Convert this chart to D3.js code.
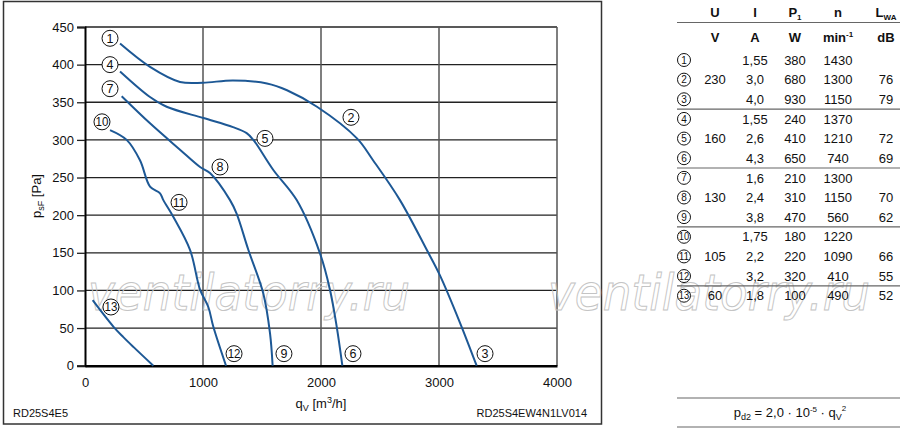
<!DOCTYPE html>
<html lang="en">
  <head>
    <meta charset="utf-8">
    <title>RD25S4E5 fan curves</title>
    <script src="https://d3js.org/d3.v7.js"></script>
    <style>
    body {margin: 0; background: white;}
    svg {font-family: "Liberation Sans", Arial, sans-serif; display: block;}
    </style>
  </head>
  <body>
  <script>

  // curves: [q_V m3/h, p_sF Pa]
  var curve1to3 = [[297,428],[551,397],[805,377],[1000,376],[1254,379],[1542,375],[1712,366],
                   [1966,344],[2305,302],[2441,273],[2669,220],[2896,154],[3008,120],[3178,57],[3319,0]];
  var curve4to6 = [[297,391],[551,357],[692,344],[1003,329],[1254,317],[1370,309],[1427,300],
                   [1596,260],[1794,220],[1992,149],[2076,101],[2133,52],[2181,0]];
  var curve7to9 = [[311,358],[551,322],[805,287],[975,264],[1059,256],[1229,220],[1285,202],
                   [1384,154],[1511,96],[1568,43],[1590,0]];
  var curve10to12 = [[212,313],[353,300],[466,273],[551,238],[636,229],[664,220],[748,198],
                     [890,154],[975,101],[1045,78],[1087,52],[1195,0]];
  var curve13 = [[65,87],[240,52],[325,38],[410,25],[579,0]];

  var curves = [curve1to3, curve4to6, curve7to9, curve10to12, curve13];

  // circled labels on the chart
  var labelNum = ["1","4","7","10","5","8","11","2","13","12","9","6","3"];
  var labelQ   = [212, 212, 212, 144, 1525, 1144, 797, 2254, 220, 1263, 1686, 2271, 3390];
  var labelP   = [435, 400, 368, 324, 302, 264, 217, 330, 78, 16, 16, 16, 16];

  var xTicks = [0, 1000, 2000, 3000, 4000];
  var yTicks = [0, 50, 100, 150, 200, 250, 300, 350, 400, 450];

  // table
  var tableNum  = ["1","2","3","4","5","6","7","8","9","10","11","12","13"];
  var tableU    = ["", "230", "", "", "160", "", "", "130", "", "", "105", "", "60"];
  var tableI    = ["1,55","3,0","4,0","1,55","2,6","4,3","1,6","2,4","3,8","1,75","2,2","3,2","1,8"];
  var tableP1   = ["380","680","930","240","410","650","210","310","470","180","220","320","100"];
  var tableN    = ["1430","1300","1150","1370","1210","740","1300","1150","560","1220","1090","410","490"];
  var tableLwa  = ["","76","79","","72","69","","70","62","","66","55","52"];
  var groupEnds = [2, 5, 8, 11];

  var w = 900;
  var h = 429;
  var blue = "#1d5895";

  var svg = d3.select("body")
      .append("svg")
      .attr("width", w)
      .attr("height", h);

  var xScale = d3.scaleLinear().domain([0, 4000]).range([85, 557]);
  var yScale = d3.scaleLinear().domain([0, 450]).range([365.7, 27]);

  // outer frame
  svg.append("rect")
     .attr("x", 3.5).attr("y", 1.5)
     .attr("width", 598).attr("height", 422.5)
     .attr("fill", "none")
     .attr("stroke", "#333")
     .attr("stroke-width", 1.5);

  // grid
  svg.selectAll(".hgrid")
     .data(yTicks.slice(1))
     .join("line")
     .attr("class", "hgrid")
     .attr("x1", xScale(0)).attr("x2", xScale(4000))
     .attr("y1", d => yScale(d)).attr("y2", d => yScale(d))
     .attr("stroke", "#222")
     .attr("stroke-width", 1.3);

  svg.selectAll(".vgrid")
     .data(xTicks.slice(1))
     .join("line")
     .attr("class", "vgrid")
     .attr("x1", d => xScale(d)).attr("x2", d => xScale(d))
     .attr("y1", yScale(0)).attr("y2", yScale(450))
     .attr("stroke", "#555")
     .attr("stroke-width", 1.5);

  // y axis with little ticks to the left
  var yAxis = d3.axisLeft(yScale).tickValues(yTicks).tickSize(8).tickPadding(3);
  var gy = svg.append("g")
     .attr("transform", `translate(${xScale(0)},0)`)
     .call(yAxis);
  gy.select(".domain").attr("stroke", "#000").attr("stroke-width", 2);
  gy.selectAll(".tick line").attr("stroke", "#222").attr("stroke-width", 1.3);
  gy.selectAll("text").attr("font-size", "13px").attr("fill", "#111")
     .attr("font-family", "Liberation Sans, Arial, sans-serif");

  var xAxis = d3.axisBottom(xScale).tickValues(xTicks).tickFormat(d3.format("d"))
      .tickSize(0).tickPadding(12);
  var gx = svg.append("g")
     .attr("transform", `translate(0,${yScale(0)})`)
     .call(xAxis);
  gx.select(".domain").attr("stroke", "#000").attr("stroke-width", 2.6);
  gx.selectAll("text").attr("font-size", "13px").attr("fill", "#111")
     .attr("font-family", "Liberation Sans, Arial, sans-serif");

  // watermark
  [88, 548].forEach(function(x0) {
    svg.append("text")
       .attr("x", x0).attr("y", 310)
       .attr("font-size", "50px")
       .attr("font-style", "italic")
       .attr("font-family", "DejaVu Sans, sans-serif")
       .attr("font-weight", "200")
       .attr("textLength", 322)
       .attr("lengthAdjust", "spacingAndGlyphs")
       .attr("fill", "none")
       .attr("stroke", "#c4c4c4")
       .attr("stroke-width", 1)
       .text("ventilatorry.ru");
  });

  // curves
  var line = d3.line()
      .x(d => xScale(d[0]))
      .y(d => yScale(d[1]))
      .curve(d3.curveCatmullRom.alpha(0.5));

  svg.selectAll(".curve")
     .data(curves)
     .join("path")
     .attr("class", "curve")
     .attr("d", line)
     .attr("fill", "none")
     .attr("stroke", blue)
     .attr("stroke-width", 2);

  // circled numbers
  function circled(g, x, y, r, num, fs) {
    g.append("circle")
     .attr("cx", x).attr("cy", y).attr("r", r)
     .attr("fill", "white").attr("stroke", "#111").attr("stroke-width", 1);
    var t = g.append("text")
     .attr("x", x).attr("y", y + fs * 0.36)
     .attr("text-anchor", "middle")
     .attr("font-size", fs + "px")
     .attr("fill", "#111")
     .text(num);
    if (num.length > 1) t.attr("textLength", r * 1.6).attr("lengthAdjust", "spacingAndGlyphs");
  }

  var lab = svg.append("g");
  labelNum.forEach(function(n, i) {
    circled(lab, xScale(labelQ[i]), yScale(labelP[i]), 8, n, 12.5);
  });

  // axis titles
  var yt = svg.append("text")
     .attr("transform", "translate(41,196) rotate(-90)")
     .attr("text-anchor", "middle")
     .attr("font-size", "13px")
     .attr("fill", "#111");
  yt.append("tspan").text("p");
  yt.append("tspan").attr("font-size", "9px").attr("dy", 3).text("sF");
  yt.append("tspan").attr("dy", -3).text(" [Pa]");

  var xt = svg.append("text")
     .attr("x", 321).attr("y", 408)
     .attr("text-anchor", "middle")
     .attr("font-size", "13px")
     .attr("fill", "#111");
  xt.append("tspan").text("q");
  xt.append("tspan").attr("font-size", "9px").attr("dy", 3).text("V");
  xt.append("tspan").attr("dy", -3).text(" [m");
  xt.append("tspan").attr("font-size", "9px").attr("dy", -5).text("3");
  xt.append("tspan").attr("dy", 5).text("/h]");

  svg.append("text")
     .attr("x", 13).attr("y", 417)
     .attr("font-size", "11px").attr("fill", "#111")
     .text("RD25S4E5");

  svg.append("text")
     .attr("x", 587).attr("y", 417)
     .attr("text-anchor", "end")
     .attr("font-size", "11px").attr("fill", "#111")
     .text("RD25S4EW4N1LV014");

  // table on the right
  var colX = [715, 755, 795, 838, 886];
  var tb = svg.append("g").attr("font-size", "13px").attr("fill", "#111");

  var head1 = ["U", "I", "P", "n", "L"];
  var head1sub = ["", "", "1", "", "WA"];
  var head2 = ["V", "A", "W", "min", "dB"];
  head1.forEach(function(s, i) {
    var t = tb.append("text")
       .attr("x", colX[i]).attr("y", 17)
       .attr("text-anchor", "middle")
       .attr("font-weight", "bold");
    t.append("tspan").text(s);
    if (head1sub[i]) t.append("tspan").attr("font-size", "8px").attr("dy", 3).text(head1sub[i]);
  });
  head2.forEach(function(s, i) {
    var t = tb.append("text")
       .attr("x", colX[i]).attr("y", 42)
       .attr("text-anchor", "middle")
       .attr("font-weight", "bold");
    t.append("tspan").text(s);
    if (s == "min") t.append("tspan").attr("font-size", "8px").attr("dy", -5).text("-1");
  });

  tb.append("line")
     .attr("x1", 677).attr("x2", 900)
     .attr("y1", 22.5).attr("y2", 22.5)
     .attr("stroke", "#666").attr("stroke-width", 1.2);

  var rowY = d3.scaleLinear().domain([0, 12]).range([60, 295.7]);
  var cols = [tableU, tableI, tableP1, tableN, tableLwa];

  tableNum.forEach(function(n, i) {
    circled(tb, 684, rowY(i), 6.5, n, 10);
    cols.forEach(function(col, j) {
      tb.append("text")
         .attr("x", colX[j]).attr("y", rowY(i) + 4.7)
         .attr("text-anchor", "middle")
         .text(col[i]);
    });
  });

  tb.selectAll(".sep")
     .data(groupEnds)
     .join("line")
     .attr("class", "sep")
     .attr("x1", 677).attr("x2", 900)
     .attr("y1", d => rowY(d) + 9.8).attr("y2", d => rowY(d) + 9.8)
     .attr("stroke", "#666").attr("stroke-width", 1.2);

  // dynamic pressure formula
  tb.append("line")
     .attr("x1", 677).attr("x2", 900).attr("y1", 398).attr("y2", 398)
     .attr("stroke", "#666").attr("stroke-width", 1.2);
  tb.append("line")
     .attr("x1", 677).attr("x2", 900).attr("y1", 427).attr("y2", 427)
     .attr("stroke", "#666").attr("stroke-width", 1.2);

  var f = tb.append("text")
     .attr("x", 790).attr("y", 417)
     .attr("text-anchor", "middle");
  f.append("tspan").text("p");
  f.append("tspan").attr("font-size", "9px").attr("dy", 3).text("d2");
  f.append("tspan").attr("dy", -3).text(" = 2,0 \u00b7 10");
  f.append("tspan").attr("font-size", "8px").attr("dy", -5).text("-5");
  f.append("tspan").attr("dy", 5).text(" \u00b7 q");
  f.append("tspan").attr("font-size", "9px").attr("dy", 3).text("V");
  f.append("tspan").attr("font-size", "8px").attr("dy", -9).text("2");

  </script>
  </body>
</html>
